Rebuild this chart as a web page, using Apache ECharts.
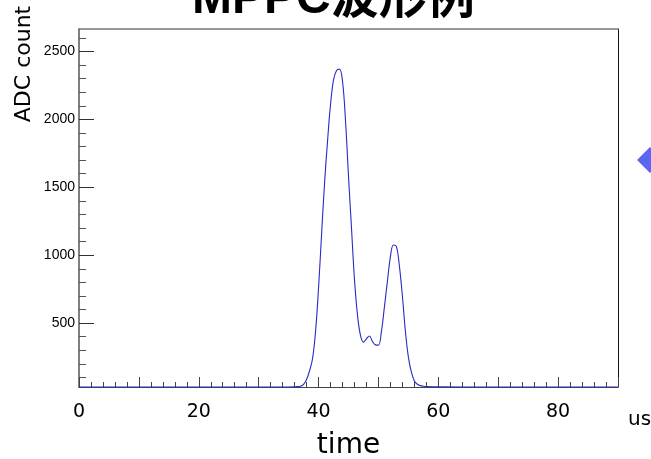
<!DOCTYPE html>
<html>
<head>
<meta charset="utf-8">
<script src="https://cdn.jsdelivr.net/npm/echarts@6/dist/echarts.min.js"></script>
<style>html,body{margin:0;padding:0;background:#fff}#c{width:651px;height:459px}</style>
</head>
<body>
<div id="c"></div>
<script>
const timeUs = [0, 30, 35, 36, 36.5, 37, 37.5, 38, 38.5, 39, 39.5, 40, 40.5, 41, 41.5, 42, 42.5, 43, 43.5, 44, 44.5, 45, 45.5, 46, 46.5, 47, 47.5, 48, 48.5, 49, 49.5, 50, 50.5, 51, 51.5, 52, 52.5, 53, 53.5, 54, 54.5, 55, 55.5, 56, 56.5, 57, 57.5, 58, 60, 70, 90];
const adcCount = [30, 30, 30, 31, 33, 36, 50, 85, 150, 240, 440, 760, 1150, 1530, 1840, 2110, 2290, 2360, 2370, 2280, 1990, 1580, 1200, 820, 560, 410, 360, 385, 405, 365, 340, 338, 440, 620, 810, 990, 1075, 1065, 920, 700, 440, 250, 140, 75, 50, 40, 36, 34, 32, 30, 30];
const xLabelValues = [0, 20, 40, 60, 80];
const yLabelValues = [500, 1000, 1500, 2000, 2500];
const yMinorValues = [100, 200, 300, 400, 600, 700, 800, 900, 1100, 1200, 1300, 1400, 1600, 1700, 1800, 1900, 2100, 2200, 2300, 2400, 2600];
const titleText = 'MPPC波形例';
const xName = 'time';
const xUnit = 'us';
const yName = 'ADC count';

const chart = echarts.init(document.getElementById('c'), null, {renderer: 'canvas'});
const yMin = 30, yMax = 2665;
chart.setOption({
  animation: false,
  backgroundColor: '#fff',
  grid: {left: 79, right: 33, top: 29, bottom: 72, containLabel: false, outerBoundsMode: 'none'},
  xAxis: [{
    type: 'value', min: 0, max: 90, interval: 10, position: 'bottom',
    axisLine: {show: true, lineStyle: {color: '#444', width: 1}},
    axisTick: {show: true, inside: true, length: 10, lineStyle: {color: '#444'}},
    minorTick: {show: true, splitNumber: 5, length: 5, lineStyle: {color: '#444'}},
    splitLine: {show: false},
    axisLabel: {customValues: xLabelValues, color: '#000', fontSize: 19, fontFamily: 'DejaVu Sans', margin: 16,
                formatter: v => String(v)},
    name: xName, nameLocation: 'middle', nameGap: 45,
    nameTextStyle: {color: '#000', fontSize: 28, fontFamily: 'DejaVu Sans'}
  }, {
    type: 'value', min: 0, max: 90, position: 'top',
    axisLine: {show: true, lineStyle: {color: '#777', width: 1.5}},
    axisTick: {show: false}, axisLabel: {show: false}, splitLine: {show: false}
  }],
  yAxis: [{
    type: 'value', min: yMin, max: yMax, position: 'left',
    axisLine: {show: true, lineStyle: {color: '#555', width: 1.5}},
    axisTick: {show: true, inside: true, length: 15, customValues: yLabelValues, lineStyle: {color: '#333'}},
    splitLine: {show: false},
    axisLabel: {customValues: yLabelValues, color: '#000', fontSize: 14, fontFamily: 'Liberation Sans', margin: 4,
                formatter: v => String(v)}
  }, {
    type: 'value', min: yMin, max: yMax, position: 'left',
    axisLine: {show: false},
    axisTick: {show: true, inside: true, length: 7, customValues: yMinorValues, lineStyle: {color: '#555'}},
    axisLabel: {show: false}, splitLine: {show: false}
  }, {
    type: 'value', min: yMin, max: yMax, position: 'right',
    axisLine: {show: true, lineStyle: {color: '#111', width: 1}},
    axisTick: {show: false}, axisLabel: {show: false}, splitLine: {show: false}
  }],
  series: [{
    type: 'line',
    data: timeUs.map((t, i) => [t, adcCount[i]]),
    showSymbol: false,
    smooth: 0.4,
    clip: false,
    lineStyle: {color: '#2a2ac4', width: 1.1},
    z: 5
  }],
  graphic: [
    {type: 'text', left: 192, top: -24, z: 10,
     style: {text: titleText, fontSize: 48, fontWeight: 'bold', fontFamily: 'Liberation Sans, "Noto Sans CJK JP", sans-serif', fill: '#000'}},
    {type: 'text', x: 24, y: 64, rotation: Math.PI / 2, z: 10,
     style: {text: yName, fontSize: 22, fontFamily: 'DejaVu Sans', fill: '#000', align: 'center', verticalAlign: 'middle'}},
    {type: 'text', x: 628, y: 420, z: 10,
     style: {text: xUnit, fontSize: 20, fontFamily: 'DejaVu Sans', fill: '#000', align: 'left', verticalAlign: 'middle'}},
    {type: 'polygon', z: 10, shape: {points: [[637, 160], [650, 147], [663, 160], [650, 173]]}, style: {fill: '#5b67f0'}}
  ]
});
</script>
</body>
</html>
